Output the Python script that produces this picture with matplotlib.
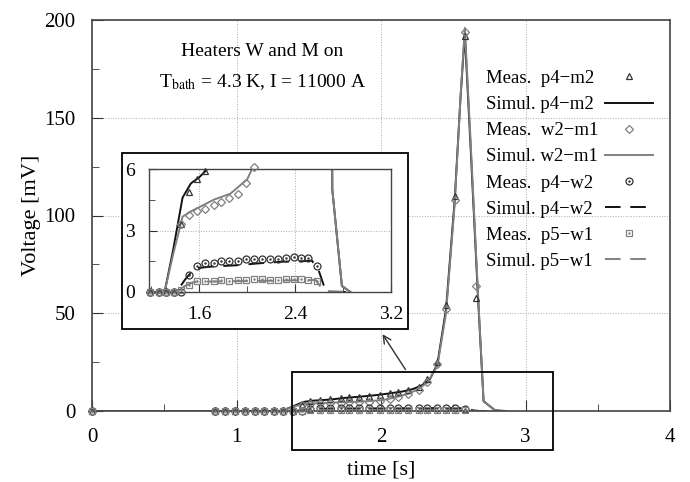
import numpy as np
import matplotlib.pyplot as plt
from matplotlib.patches import Rectangle
from matplotlib.ticker import MultipleLocator

plt.rcParams['font.family'] = ['Liberation Serif', 'DejaVu Serif']
plt.rcParams['mathtext.fontset'] = 'stix'

# measured points (time in s, voltage in mV)
t_meas = [0, 0.85, 0.92, 0.99, 1.06, 1.13, 1.19, 1.26, 1.32, 1.39, 1.45, 1.51, 1.58,
          1.65, 1.72, 1.78, 1.85, 1.92, 1.99, 2.06, 2.12, 2.19, 2.26, 2.32, 2.39,
          2.45, 2.51, 2.58, 2.66]
meas_p4m2 = [0, 0, 0, 0, 0, 0, 0, 0, 0, 0, 3.3, 4.9, 5.5, 5.9, 6.5, 7.0, 7.4, 7.9,
             8.4, 9.0, 9.7, 10.8, 12.4, 16.5, 25, 54, 110, 192, 58]
meas_w2m1 = [0, 0, 0, 0, 0, 0, 0, 0, 0, 0, 3.3, 3.75, 3.95, 4.05, 4.25, 4.4, 4.6, 4.8,
             5.3, 6.1, 7.0, 8.5, 10.8, 15, 24, 52, 108, 194, 64]
meas_p4w2 = [0, 0, 0, 0, 0, 0, 0, 0, 0, 0, 0, 0.83, 1.28, 1.43, 1.43, 1.53, 1.51, 1.51,
             1.59, 1.59, 1.61, 1.61, 1.59, 1.67, 1.72, 1.67, 1.64, 1.27, np.nan]
meas_p5w1 = [0, 0, 0, 0, 0, 0, 0, 0, 0, 0, 0.1, 0.34, 0.55, 0.55, 0.55, 0.59, 0.55, 0.59,
             0.59, 0.62, 0.62, 0.59, 0.59, 0.65, 0.65, 0.62, 0.59, 0.54, np.nan]

# simulations
t_sim_p4m2 = [0, 1.31, 1.38, 1.46, 1.53, 1.60, 1.66, 1.75, 1.85, 1.95, 2.05, 2.15, 2.22,
              2.28, 2.34, 2.39, 2.45, 2.51, 2.55, 2.58, 2.62, 2.67, 2.71, 2.79, 2.86]
sim_p4m2 = [0, 0, 2.0, 4.6, 5.3, 5.6, 5.95, 6.7, 7.3, 8.0, 8.9, 10.0, 11.2,
            13, 16.5, 24, 52, 108, 160, 193, 135, 60, 5, 0.3, 0]
t_sim_w2m1 = [0, 1.31, 1.38, 1.46, 1.52, 1.62, 1.72, 1.86, 2.0, 2.04, 2.1, 2.18, 2.25,
              2.32, 2.39, 2.45, 2.51, 2.55, 2.58, 2.62, 2.67, 2.71, 2.79, 2.86]
sim_w2m1 = [0, 0, 1.8, 3.67, 3.9, 4.2, 4.5, 4.8, 5.5, 6.0, 7.0, 8.6, 10.8,
            14.5, 23, 50, 106, 160, 196, 138, 62, 5, 0.3, 0]
t_sim_p4w2 = [0, 1.41, 1.48, 1.56, 1.7, 1.9, 2.1, 2.3, 2.45, 2.54, 2.6, 2.64, 2.68, 2.86]
sim_p4w2 = [0, 0, 0.6, 1.15, 1.24, 1.3, 1.4, 1.48, 1.5, 1.53, 0.99, 0.3, 0, 0]
t_sim_p5w1 = [0, 1.41, 1.48, 1.56, 1.8, 2.2, 2.5, 2.57, 2.64, 2.86]
sim_p5w1 = [0, 0, 0.3, 0.5, 0.52, 0.55, 0.58, 0.59, 0.05, 0]

labels = ['Meas.  p4\u2212m2', 'Simul. p4\u2212m2', 'Meas.  w2\u2212m1', 'Simul. w2\u2212m1',
          'Meas.  p4\u2212w2', 'Simul. p4\u2212w2', 'Meas.  p5\u2212w1', 'Simul. p5\u2212w1']

dark = '#333333'
grey = '#808080'


def draw(ax, xmin=None, ymax=None):
    ms = 5
    h = {}
    h['s1'], = ax.plot(t_sim_p4m2, sim_p4m2, color='#111111', lw=1.4)
    h['s2'], = ax.plot(t_sim_w2m1, sim_w2m1, color=grey, lw=1.4)
    h['s3'], = ax.plot(t_sim_p4w2, sim_p4w2, color='#111111', lw=1.4, dashes=(8, 5))
    h['s4'], = ax.plot(t_sim_p5w1, sim_p5w1, color=grey, lw=1.4, dashes=(8, 5))
    meas = [(meas_p4m2, '^', dark, False), (meas_w2m1, 'D', grey, False),
            (meas_p4w2, 'o', dark, True), (meas_p5w1, 's', grey, True)]
    t = np.array(t_meas)
    for i, (v, mk, c, dot) in enumerate(meas):
        v = np.array(v, dtype=float)
        # markers are unclipped, so drop the ones outside the inset window
        if ymax is not None:
            v = np.where((v <= ymax) & (t >= xmin), v, np.nan)
        size = ms - 1 if mk == 'D' else ms
        m, = ax.plot(t, v, ls='none', marker=mk, ms=size, mfc='none', mec=c,
                     mew=0.9, clip_on=False, zorder=3)
        h['m%d' % (i + 1)] = m
        if dot:
            d, = ax.plot(t, v, ls='none', marker='.', ms=1.5, color=c,
                         clip_on=False, zorder=3)
            h['m%d' % (i + 1)] = (m, d)
    return h


fig = plt.figure(figsize=(6.9, 4.82), dpi=100)
ax = fig.add_axes([92 / 690, 1 - 411 / 482, 578 / 690, 391 / 482])
h = draw(ax)

ax.set_xlim(0, 4)
ax.set_ylim(0, 200)
ax.set_xticks([0, 1, 2, 3, 4])
ax.set_yticks([0, 50, 100, 150, 200])
ax.xaxis.set_minor_locator(MultipleLocator(0.5))
ax.yaxis.set_minor_locator(MultipleLocator(25))
ax.tick_params(which='both', direction='in', top=False, right=False, labelsize=15,
               color=dark)
ax.tick_params(which='major', length=8, pad=12)
ax.tick_params(which='minor', length=5)
ax.grid(True, which='major', ls=':', color='#aaaaaa', lw=0.7)
for s in ax.spines.values():
    s.set_color('#444444')
    s.set_linewidth(1.2)
ax.set_xlabel('time [s]', fontsize=16, labelpad=10)
ax.set_ylabel('Voltage [mV]', fontsize=16, labelpad=2)

ax.text(1.18, 184, 'Heaters W and M on', ha='center', va='center', fontsize=14)
ax.text(1.18, 168, r'T$_{\rm bath}$ = 4.3 K, I = 11000 A', ha='center', va='center',
        fontsize=14)

# legend: left-aligned labels in one box, symbols in a second box beside it
order = ['m1', 's1', 'm2', 's2', 'm3', 's3', 'm4', 's4']
handles = [h[k] for k in order]
common = dict(frameon=False, fontsize=13.5, labelspacing=0.48, borderpad=0.2)
blank = [plt.Line2D([], [], lw=0) for _ in order]
leg_txt = ax.legend(blank, labels, loc='upper left', bbox_to_anchor=(0.659, 0.906),
                    handlelength=0, handletextpad=0, **common)
ax.add_artist(leg_txt)
ax.legend(handles, [' '] * len(order), loc='upper left',
          bbox_to_anchor=(0.865, 0.906), handlelength=2.55, handletextpad=0,
          **common)

# zoom window, inset frame and arrow
ax.add_patch(Rectangle((1.385, -20), 1.805, 40, fill=False, ec='black', lw=1.3,
                       clip_on=False, zorder=4))
ax.add_patch(Rectangle((0.052, 0.21), 0.495, 0.45, transform=ax.transAxes,
                       fc='white', ec='black', lw=1.3, zorder=5, clip_on=False))
ax.annotate('', xy=(2.0, 40.5), xytext=(2.18, 20),
            arrowprops=dict(arrowstyle='->', color=dark, lw=1.0, mutation_scale=14))

axi = fig.add_axes([149 / 690, 1 - 292 / 482, 242 / 690, 123 / 482], zorder=2)
draw(axi, xmin=1.18, ymax=6.1)
axi.set_xlim(1.18, 3.2)
axi.set_ylim(0, 6)
axi.set_xticks([1.6, 2.4, 3.2])
axi.set_yticks([0, 3, 6])
axi.xaxis.set_minor_locator(MultipleLocator(0.4))
axi.yaxis.set_minor_locator(MultipleLocator(1.5))
axi.tick_params(which='both', direction='in', top=False, right=False, labelsize=14,
                color=dark)
axi.tick_params(which='major', length=6, pad=10)
axi.tick_params(which='minor', length=4)
axi.grid(True, which='major', ls=':', color='#aaaaaa', lw=0.7)
for s in axi.spines.values():
    s.set_color('#444444')
    s.set_linewidth(1.0)

plt.savefig('out.png', dpi=100)
